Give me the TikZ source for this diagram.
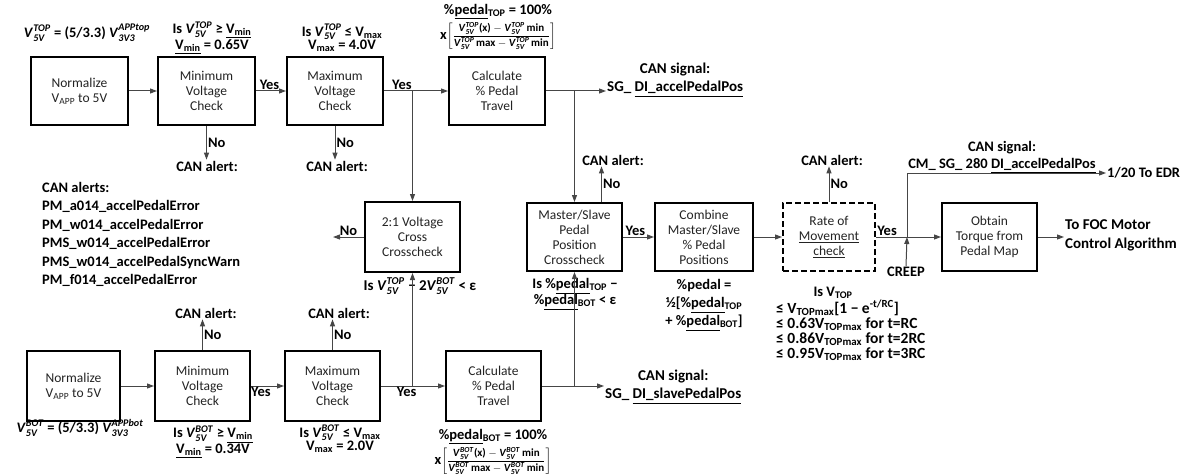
\documentclass[tikz,border=0pt]{standalone}
\usepackage{fontspec}
\setmainfont{Carlito}
\usepackage{amsmath}
\usetikzlibrary{arrows.meta,positioning,calc}
\definecolor{inkLine}{RGB}{70,70,70}
\definecolor{inkText}{RGB}{35,35,35}
% V with stacked super/subscript, in text font
\newcommand{\vm}[2]{\text{\textit{V}}^{\text{\textit{#1}}}_{\text{\textit{#2}}}}
\newcommand{\pct}[1]{\%\underline{pedal}\textsubscript{#1}}
\newcommand{\travelFrac}[1]{x{\fontsize{11}{13}\selectfont$\left[\dfrac{\vm{#1}{5V}\text{(x)}-\vm{#1}{5V}\,\text{min}}{\vm{#1}{5V}\,\text{max}-\vm{#1}{5V}\,\text{min}}\right]$}}

\begin{document}
\begin{tikzpicture}[x=1pt,y=-1pt,
  box/.style={draw=black,line width=2pt,minimum width=95pt,minimum height=68pt,align=center,text=inkText,font=\fontsize{13.5}{15}\selectfont,inner sep=2pt},
  rateBox/.style={box,dash pattern=on 6pt off 3pt},
  lbl/.style={font=\fontsize{14.5}{17}\selectfont\bfseries,inner sep=1pt},
  cond/.style={lbl,align=center,font=\fontsize{14.5}{13.5}\selectfont\bfseries},
  flow/.style={draw=inkLine,line width=1pt,-{Triangle[length=7pt,width=5pt]}},
  wire/.style={draw=inkLine,line width=1pt}]
  \useasboundingbox (0,0) rectangle (1193,476);
  % top channel
  \node[box,minimum width=97pt] (normTop) at (79.5,91) {Normalize\\V\textsubscript{APP} to 5V};
  \node[box,minimum width=97pt] (minTop) at (206.5,91) {Minimum\\Voltage\\Check};
  \node[box,minimum width=96pt] (maxTop) at (335,91) {Maximum\\Voltage\\Check};
  \node[box,minimum width=96pt] (calcTop) at (497,91) {Calculate\\\% Pedal\\Travel};
  % bottom channel
  \node[box,minimum width=93pt,minimum height=70pt] (normBot) at (73.5,386) {Normalize\\V\textsubscript{APP} to 5V};
  \node[box,minimum height=70pt] (minBot) at (202.5,386) {Minimum\\Voltage\\Check};
  \node[box,minimum height=70pt] (maxBot) at (332.5,386) {Maximum\\Voltage\\Check};
  \node[box,minimum height=70pt] (calcBot) at (493.5,386) {Calculate\\\% Pedal\\Travel};
  % middle row
  \node[box,minimum height=70pt] (crossV) at (412.5,237) {2:1 Voltage\\Cross\\Crosscheck};
  \node[box] (crossMS) at (574.5,237) {Master/Slave\\Pedal\\Position\\Crosscheck};
  \node[box,minimum width=98pt] (combine) at (704,237) {Combine\\Master/Slave\\\% Pedal\\Positions};
  \node[rateBox,minimum width=92pt] (rateMove) at (829,237) {Rate of\\\underline{Movement}\\\underline{check}};
  \node[box] (torque) at (989.5,237) {Obtain\\Torque from\\Pedal Map};

  % conditions, top
  \node[lbl] (fTop) at (87,33) {$\vm{TOP}{5V}$ = (5/3.3) $\vm{APPtop}{3V3}$};
  \node[cond] (cMinTop) at (212,38) {Is $\vm{TOP}{5V}$ ≥ \underline{V\textsubscript{min}}\\\underline{V\textsubscript{min}} = 0.65V};
  \node[cond] (cMaxTop) at (342,38) {Is $\vm{TOP}{5V}$ ≤ V\textsubscript{max}\\V\textsubscript{max} = 4.0V};
  \node[cond,font=\fontsize{14.5}{15}\selectfont\bfseries] (cCalcTop) at (498,27) {\pct{TOP} = 100\%\\[2pt]\travelFrac{TOP}};
  % conditions, bottom
  \node[lbl] (fBot) at (80,428) {$\vm{BOT}{5V}$ = (5/3.3) $\vm{APPbot}{3V3}$};
  \node[cond] (cMinBot) at (213,442) {Is $\vm{BOT}{5V}$ ≥ \underline{V\textsubscript{min}}\\\underline{V\textsubscript{min}} = 0.34V};
  \node[cond] (cMaxBot) at (340,439) {Is $\vm{BOT}{5V}$ ≤ V\textsubscript{max}\\V\textsubscript{max} = 2.0V};
  \node[cond,font=\fontsize{14.5}{15}\selectfont\bfseries] (cCalcBot) at (493,452) {\pct{BOT} = 100\%\\[2pt]\travelFrac{BOT}};
  % conditions, middle
  \node[cond,font=\fontsize{15}{15}\selectfont\bfseries] (cCrossV) at (420,286) {Is $\vm{TOP}{5V}$ − 2$\vm{BOT}{5V}$ < ε};
  \node[cond,font=\fontsize{14.5}{16}\selectfont\bfseries] (cCrossMS) at (575,294) {Is \pct{TOP} −\\\pct{BOT} < ε};
  \node[cond,font=\fontsize{14.5}{18}\selectfont\bfseries] (cCombine) at (704,305) {\%pedal =\\½[\pct{TOP}\\+ \pct{BOT}]};
  \node[cond] (cRateIs) at (833,293) {Is V\textsubscript{TOP}};
  \node[cond,align=left,anchor=north west,font=\fontsize{15.5}{15}\selectfont\bfseries] (cRate) at (775,299)
    {≤ V\textsubscript{TOPmax}[1 − e\textsuperscript{-t/RC}]\\≤ 0.63V\textsubscript{TOPmax} for t=RC\\≤ 0.86V\textsubscript{TOPmax} for t=2RC\\≤ 0.95V\textsubscript{TOPmax} for t=3RC};

  % alert list
  \node[lbl,align=left,anchor=north west,font=\fontsize{14.5}{18.5}\selectfont\bfseries] (alertList) at (41,181)
    {CAN alerts:\\PM\_a014\_accelPedalError\\PM\_w014\_accelPedalError\\PMS\_w014\_accelPedalError\\PMS\_w014\_accelPedalSyncWarn\\PM\_f014\_accelPedalError};

  % alert and signal labels
  \node[lbl] (alertMinTop) at (207,166) {CAN alert:};
  \node[lbl] (alertMaxTop) at (337,166) {CAN alert:};
  \node[lbl] (alertMinBot) at (206,313) {CAN alert:};
  \node[lbl] (alertMaxBot) at (339,313) {CAN alert:};
  \node[lbl] (alertMS) at (613,160) {CAN alert:};
  \node[lbl] (alertRate) at (832,160) {CAN alert:};
  \node[lbl,align=center,anchor=west,font=\fontsize{15}{18}\selectfont\bfseries] (sigTop) at (606,80) {CAN signal:\\SG\_ \underline{DI\_accelPedalPos}};
  \node[lbl,align=center,anchor=west,font=\fontsize{15}{18}\selectfont\bfseries] (sigBot) at (604,387) {CAN signal:\\SG\_ \underline{DI\_slavePedalPos}};
  \node[lbl,align=center] (sigEdr) at (1002,157) {CAN signal:\\CM\_ SG\_ 280 \underline{DI\_accelPedalPos}};
  \node[lbl,anchor=west] (edr) at (1106,173) {1/20 To EDR};
  \node[lbl,align=left,anchor=west,font=\fontsize{15}{19}\selectfont\bfseries] (foc) at (1064,235) {To FOC Motor\\Control Algorithm};
  \node[lbl] (creep) at (906,272) {CREEP};

  % top flow
  \draw[flow] (normTop) -- (minTop);
  \draw[flow] (minTop) -- node[lbl,above,pos=0.45]{Yes} (maxTop);
  \draw[flow] (maxTop) -- node[lbl,above,pos=0.28]{Yes} (calcTop);
  \draw[flow] (calcTop.east) -- (calcTop.east -| sigTop.west);
  \draw[flow] (minTop.south) -- node[lbl,right,pos=0.5]{No} (minTop.south |- alertMinTop.north);
  \draw[flow] (maxTop.south) -- node[lbl,right,pos=0.5]{No} (maxTop.south |- alertMaxTop.north);
  % bottom flow
  \draw[flow] (normBot) -- (minBot);
  \draw[flow] (minBot) -- node[lbl,below,pos=0.3]{Yes} (maxBot);
  \draw[flow] (maxBot) -- node[lbl,below,pos=0.4]{Yes} (calcBot);
  \draw[flow] (calcBot.east) -- (calcBot.east -| sigBot.west);
  \draw[flow] (minBot.north) -- node[lbl,right,pos=0.5]{No} (minBot.north |- alertMinBot.south);
  \draw[flow] (maxBot.north) -- node[lbl,right,pos=0.5]{No} (maxBot.north |- alertMaxBot.south);
  % voltage crosscheck
  \coordinate (jTop) at (crossV.north |- calcTop.west);
  \coordinate (jBot) at (crossV.south |- calcBot.west);
  \coordinate (noCross) at (333,237);
  \draw[flow] (jTop) -- (crossV.north);
  \draw[flow] (jBot) -- (crossV.south);
  \draw[flow] (crossV.west) -- node[lbl,above]{No} (noCross);
  % pedal crosscheck and on
  \coordinate (jMsTop) at (crossMS.north |- calcTop.east);
  \coordinate (jMsBot) at (crossMS.south |- calcBot.east);
  \draw[flow] (jMsTop) -- (crossMS.north);
  \draw[flow] (jMsBot) -- (crossMS.south);
  \draw[flow] ([xshift=27pt]crossMS.north) -- node[lbl,right,pos=0.5]{No} ([xshift=27pt]crossMS.north |- alertMS.south);
  \draw[flow] (crossMS) -- node[lbl,above,pos=0.4]{Yes} (combine);
  \draw[flow] (combine) -- (rateMove);
  \draw[flow] (rateMove.north) -- node[lbl,right,pos=0.5]{No} (rateMove.north |- alertRate.south);
  \coordinate (jCreep) at (907,237);
  \draw[flow] (rateMove) -- node[lbl,above,pos=0.17]{Yes} (torque);
  \draw[flow] (creep.north) -- (jCreep);
  \draw[flow] (jCreep) |- (edr.west);
  \draw[flow] (torque.east) -- (torque.east -| foc.west);
\end{tikzpicture}
\end{document}
